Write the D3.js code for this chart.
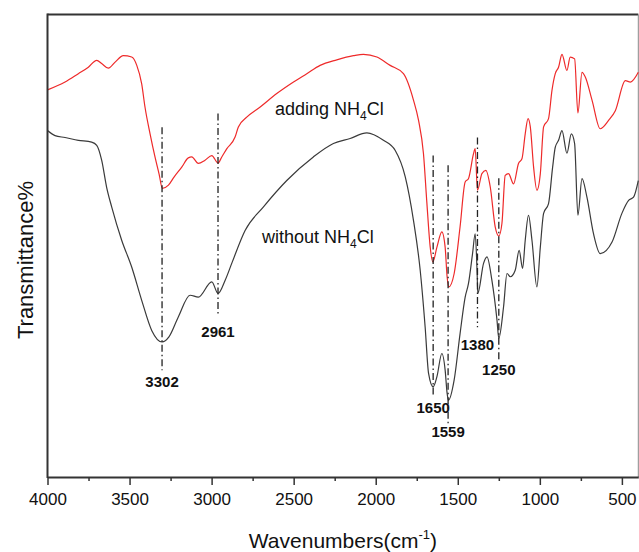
<!DOCTYPE html>
<html>
<head>
<meta charset="utf-8">
<script src="https://cdn.jsdelivr.net/npm/d3@7"></script>
<style>
  body { margin: 0; background: #fff; }
  svg text { font-family: Arial, "Liberation Sans", sans-serif; }
</style>
</head>
<body>
<div id="chart"></div>
<script>
// FTIR spectra, wavenumber (cm-1) vs transmittance (arbitrary units)
const redWn = [4000, 3893, 3812, 3751, 3700, 3670, 3629, 3588, 3538, 3487, 3456, 3426, 3406, 3375, 3345, 3320, 3300,
  3263, 3228, 3182, 3142, 3121, 3081, 3040, 2999, 2961, 2938, 2907, 2857, 2837, 2786, 2704, 2603, 2501, 2420, 2339,
  2237, 2136, 2075, 1993, 1912, 1831, 1770, 1739, 1709, 1688, 1668, 1652, 1627, 1597, 1577, 1565, 1555, 1522, 1486,
  1455, 1435, 1404, 1394, 1380, 1353, 1329, 1302, 1272, 1250, 1231, 1211, 1191, 1160, 1130, 1109, 1089, 1072, 1058,
  1038, 1018, 997, 977, 947, 926, 906, 886, 865, 835, 815, 788, 768, 743, 723, 682, 632, 581, 540, 479, 448, 400];
const redT = [83.7, 85.4, 87.2, 88.6, 90.1, 89.4, 88.4, 89.7, 91.1, 90.8, 89.0, 85.0, 80.0, 74.2, 69.2, 65.5, 62.4,
  63.1, 64.9, 67.0, 69.0, 69.2, 67.8, 68.5, 69.5, 67.9, 69.2, 71.0, 73.5, 75.7, 77.8, 80.0, 82.9, 85.4, 87.2, 89.0,
  90.2, 91.1, 91.4, 90.8, 89.0, 87.2, 81.5, 77.1, 69.9, 59.1, 49.7, 46.5, 49.7, 53.0, 49.7, 43.3, 41.1, 44.0, 54.1,
  63.8, 64.5, 69.9, 71.0, 62.0, 65.6, 66.3, 62.7, 54.1, 52.1, 54.8, 65.2, 65.6, 63.4, 67.8, 68.8, 74.2, 77.5, 75.7,
  67.0, 62.0, 65.6, 75.7, 77.5, 83.6, 87.2, 88.6, 91.4, 87.9, 90.8, 90.4, 78.7, 87.5, 86.5, 81.5, 75.3, 77.1, 79.2,
  85.7, 85.4, 87.5];

const blackWn = [4000, 3954, 3893, 3812, 3731, 3700, 3670, 3640, 3609, 3548, 3487, 3426, 3365, 3302, 3260, 3203,
  3131, 3081, 2999, 2961, 2918, 2875, 2796, 2684, 2542, 2380, 2258, 2156, 2054, 1953, 1881, 1820, 1770, 1729, 1699,
  1678, 1650, 1627, 1597, 1577, 1565, 1557, 1522, 1486, 1455, 1435, 1410, 1394, 1382, 1378, 1343, 1322, 1292, 1261,
  1250, 1221, 1200, 1180, 1150, 1126, 1105, 1089, 1069, 1048, 1018, 997, 977, 947, 922, 906, 886, 865, 835, 808, 788,
  768, 743, 713, 673, 632, 560, 500, 459, 429, 400];
const blackT = [74.9, 73.8, 73.4, 72.8, 72.4, 71.7, 68.5, 62.7, 58.4, 51.2, 45.4, 38.2, 31.7, 29.2, 30.3, 34.6,
  39.3, 38.9, 42.2, 39.7, 42.5, 46.4, 53.3, 58.4, 64.1, 69.2, 72.1, 73.2, 74.4, 72.8, 70.6, 64.9, 55.5, 44.7, 32.5,
  22.4, 19.5, 21.7, 26.7, 23.1, 18.1, 16.6, 21.0, 31.0, 38.9, 41.8, 48.3, 52.6, 44.0, 39.7, 46.2, 47.6, 42.5, 33.9,
  30.0, 36.8, 44.0, 43.3, 44.7, 49.0, 45.1, 51.2, 56.6, 51.2, 41.1, 49.7, 57.0, 59.1, 67.0, 71.3, 72.8, 74.9, 70.0,
  74.2, 72.1, 56.6, 64.5, 60.5, 52.6, 48.3, 50.8, 57.0, 59.8, 60.5, 64.1];

// marked peaks: wavenumber, dash-dot line top/bottom, label level
const peakWn = [3302, 2961, 1650, 1559, 1380, 1250];
const peakTop = [75.6, 78.6, 69.5, 67.4, 73.4, 64.6];
const peakBottom = [23.1, 35.0, 17.3, 11.2, 32.4, 25.3];
const peakLabelT = [20.6, 31.5, 14.9, 9.7, 28.5, 23.1];

const xTicks = [4000, 3500, 3000, 2500, 2000, 1500, 1000, 500];
const xMinorTicks = [3750, 3250, 2750, 2250, 1750, 1250, 750];

const W = 639, H = 552;
const mLeft = 47.5, mRight = 638.3, mTop = 14.5, mBottom = 477;

const svg = d3.select("#chart").append("svg")
    .attr("width", W)
    .attr("height", H);

const x = d3.scaleLinear().domain([4000, 400]).range([mLeft, mRight]);
const y = d3.scaleLinear().domain([0, 100]).range([mBottom, mTop]);

// frame top and right
svg.append("line")
    .attr("x1", mLeft).attr("x2", mRight).attr("y1", mTop).attr("y2", mTop)
    .attr("stroke", "#333").attr("stroke-width", 2);
svg.append("line")
    .attr("x1", mRight).attr("x2", mRight).attr("y1", mTop).attr("y2", mBottom)
    .attr("stroke", "#888").attr("stroke-width", 1);

const line = d3.line()
    .x(d => x(d[0]))
    .y(d => y(d[1]))
    .curve(d3.curveMonotoneX);

svg.append("path")
    .datum(blackWn.map((w, i) => [w, blackT[i]]))
    .attr("fill", "none")
    .attr("stroke", "#3a3a3a")
    .attr("stroke-width", 1.2)
    .attr("d", line);

svg.append("path")
    .datum(redWn.map((w, i) => [w, redT[i]]))
    .attr("fill", "none")
    .attr("stroke", "#ee2a2a")
    .attr("stroke-width", 1.2)
    .attr("d", line);

// dash-dot markers
const peaks = svg.append("g");
peakWn.forEach((w, i) => {
    peaks.append("line")
        .attr("x1", x(w)).attr("x2", x(w))
        .attr("y1", y(peakTop[i])).attr("y2", y(peakBottom[i]))
        .attr("stroke", "#222")
        .attr("stroke-width", 1.3)
        .attr("stroke-dasharray", "7,3,1.5,3");
    peaks.append("text")
        .attr("x", x(w))
        .attr("y", y(peakLabelT[i]))
        .attr("dy", "0.35em")
        .attr("text-anchor", "middle")
        .attr("font-size", 15)
        .attr("font-weight", "bold")
        .attr("fill", "#111")
        .text(w);
});

// series labels
function chemLabel(tx, ty, pre) {
    const t = svg.append("text")
        .attr("x", tx).attr("y", ty)
        .attr("font-size", 18)
        .attr("fill", "#111");
    t.append("tspan").text(pre + " NH");
    t.append("tspan").attr("font-size", 12).attr("dy", 5).text("4");
    t.append("tspan").attr("dy", -5).text("Cl");
}
chemLabel(275, 115, "adding");
chemLabel(262, 243, "without");

// x axis
const xAxis = svg.append("g")
    .attr("transform", "translate(0," + mBottom + ")")
    .call(d3.axisBottom(x).tickValues(xTicks).tickFormat(d3.format("d"))
        .tickSize(8).tickPadding(8).tickSizeOuter(0));
xAxis.select(".domain").attr("stroke", "#333").attr("stroke-width", 2);
xAxis.selectAll(".tick line").attr("stroke", "#333").attr("stroke-width", 1.5);
xAxis.selectAll(".tick text").attr("font-size", 17).attr("fill", "#111")
    .style("font-family", "Arial, 'Liberation Sans', sans-serif");

const xMinor = svg.append("g")
    .attr("transform", "translate(0," + mBottom + ")")
    .call(d3.axisBottom(x).tickValues(xMinorTicks).tickSize(4).tickFormat(""));
xMinor.select(".domain").remove();
xMinor.selectAll(".tick line").attr("stroke", "#333").attr("stroke-width", 1.5);

// y axis line, no ticks
svg.append("line")
    .attr("x1", mLeft).attr("x2", mLeft).attr("y1", mTop - 1).attr("y2", mBottom + 1)
    .attr("stroke", "#333").attr("stroke-width", 2);

// axis titles
const xTitle = svg.append("text")
    .attr("x", (mLeft + mRight) / 2)
    .attr("y", 548)
    .attr("text-anchor", "middle")
    .attr("font-size", 21)
    .attr("fill", "#111");
xTitle.append("tspan").text("Wavenumbers(cm");
xTitle.append("tspan").attr("font-size", 13).attr("dy", -9).text("-1");
xTitle.append("tspan").attr("dy", 9).text(")");

svg.append("text")
    .attr("transform", "translate(33,260) rotate(-90)")
    .attr("text-anchor", "middle")
    .attr("font-size", 22)
    .attr("fill", "#111")
    .text("Transmittance%");
</script>
</body>
</html>
